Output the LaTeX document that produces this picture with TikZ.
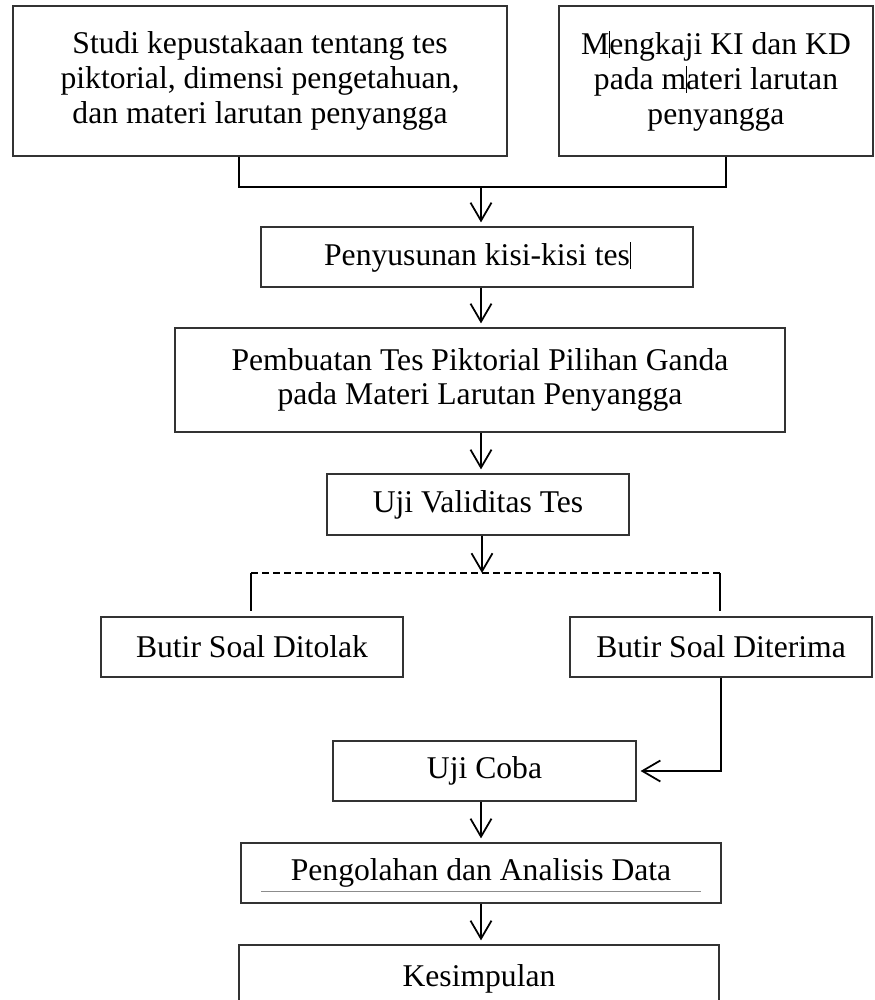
\documentclass[tikz,border=0pt]{standalone}
\usepackage{fontspec}
\setmainfont{Liberation Serif}
\usetikzlibrary{arrows.meta}
\newcommand{\kursor}{\makebox[0pt][l]{\rule[-0.1em]{0.6pt}{0.85em}}}

\begin{document}
\begin{tikzpicture}[
    kotak/.style={draw=black!80, line width=0.7pt, inner sep=0pt, align=center, minimum height=1.2cm},
    garis/.style={line width=1pt},
    panah/.style={garis, -{Straight Barb[length=3.6mm,width=4.2mm]}, shorten >=0.8mm},
    font=\fontsize{18pt}{19.8pt}\selectfont]
              \useasboundingbox (0,0) rectangle (17.5,-20);

              \node[kotak, minimum width=9.88cm, minimum height=3cm] (studi) at (5.20,-1.62) {Studi kepustakaan tentang tes\\piktorial, dimensi pengetahuan,\\dan materi larutan penyangga};
              \node[kotak, minimum width=6.28cm, minimum height=3cm] (kaji) at (14.32,-1.62) {M\kursor engkaji KI dan KD\\pada m\kursor ateri larutan\\penyangga};
              \node[kotak, minimum width=8.64cm] (kisi) at (9.54,-5.14) {Penyusunan kisi-kisi tes\kursor};
              \node[kotak, minimum width=12.2cm, minimum height=2.08cm] (buat) at (9.60,-7.60) {Pembuatan Tes Piktorial Pilihan Ganda\\pada Materi Larutan Penyangga};
              \node[kotak, minimum width=6.04cm, minimum height=1.22cm] (valid) at (9.56,-10.09) {Uji Validitas Tes};
              \node[kotak, minimum width=6.04cm] (tolak) at (5.04,-12.94) {Butir Soal Ditolak};
              \node[kotak, minimum width=6.04cm] (terima) at (14.42,-12.94) {Butir Soal Diterima};
              \node[kotak, minimum width=6.06cm] (coba) at (9.69,-15.42) {Uji Coba};
              \node[kotak, minimum width=9.6cm] (olah) at (9.62,-17.46) {Pengolahan dan Analisis Data};
              \node[kotak, minimum width=9.6cm, minimum height=1.34cm] (simpul) at (9.58,-19.57) {Kesimpulan};

              \coordinate (kiri) at (4.78,-3.74);
              \coordinate (kanan) at (14.52,-3.74);
              \coordinate (gabung) at (9.62,-3.74);
              \draw[garis] (kiri |- studi.south) -- (kiri) -- (kanan) -- (kanan |- kaji.south);
              \draw[panah] (gabung) -- (gabung |- kisi.north);
              \draw[panah] (9.62,0 |- kisi.south) -- (9.62,0 |- buat.north);
              \draw[panah] (9.62,0 |- buat.south) -- (9.62,0 |- valid.north);

              \coordinate (cabang) at (9.64,-11.46);
              \coordinate (kiri2) at (5.02,-11.46);
              \coordinate (kanan2) at (14.40,-11.46);
              \draw[panah, shorten >=0pt] (cabang |- valid.south) -- (cabang);
              \draw[garis, dash pattern=on 1.4mm off 0.8mm] (kiri2) -- (kanan2);
              \draw[garis] (kiri2) -- ([yshift=1mm]tolak.north -| kiri2);
              \draw[garis] (kanan2) -- ([yshift=1mm]terima.north -| kanan2);

              \draw[panah] (terima.south) |- (coba.east);
              \draw[panah] (9.62,0 |- coba.south) -- (9.62,0 |- olah.north);
              \draw[panah] (9.62,0 |- olah.south) -- (9.62,0 |- simpul.north);

              \draw[black!45, line width=0.3pt] ([shift={(0.42,0.24)}]olah.south west) -- ([shift={(-0.42,0.24)}]olah.south east);
             \end{tikzpicture}
\end{document}
